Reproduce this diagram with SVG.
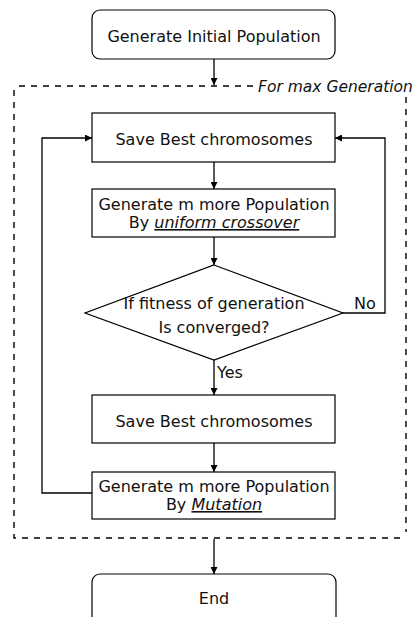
<svg xmlns="http://www.w3.org/2000/svg" width="417" height="617" viewBox="0 0 417 617">
<style>
.box{fill:#fff;stroke:#000;stroke-width:1.2}
.t{font-family:"DejaVu Sans","Liberation Sans",Arial,sans-serif;font-size:16px;fill:#111;text-anchor:middle}
.s{text-anchor:start}
.c{fill:none;stroke:#000;stroke-width:1.3}
.d{fill:none;stroke:#000;stroke-width:1.4;stroke-dasharray:6 6}
</style>
<defs>
<marker id="ah" viewBox="0 0 10 10" refX="10" refY="5" markerWidth="7" markerHeight="7" orient="auto" markerUnits="userSpaceOnUse">
<path d="M0,0 L10,5 L0,10 z" fill="#000"/>
</marker>
</defs>
<g id="loop-frame">
<path class="d" d="M19,86 H255 M14,90 V538 H406 M406,97 V532"/>
<text x="258" y="92" class="t s" style="font-style:italic;font-size:15.5px">For max Generation</text>
</g>
<g id="connectors">
<path class="c" d="M214,59 V85" marker-end="url(#ah)"/>
<path class="c" d="M214,162 V189" marker-end="url(#ah)"/>
<path class="c" d="M214,237 V265" marker-end="url(#ah)"/>
<path class="c" d="M214,360 V395" marker-end="url(#ah)"/>
<path class="c" d="M214,443 V472" marker-end="url(#ah)"/>
<path class="c" d="M214,539 V574" marker-end="url(#ah)"/>
<path class="c" d="M343,313 H385 V138 H335" marker-end="url(#ah)"/>
<path class="c" d="M92,493 H42 V138 H92" marker-end="url(#ah)"/>
<text x="354" y="309" class="t s">No</text>
<text x="217" y="378" class="t s">Yes</text>
</g>
<g id="start">
<rect class="box" x="92" y="10" width="243" height="49" rx="8"/>
<text x="214" y="42" class="t">Generate Initial Population</text>
</g>
<g id="save1">
<rect class="box" x="92" y="113" width="243" height="49"/>
<text x="214" y="145" class="t">Save Best chromosomes</text>
</g>
<g id="crossover">
<rect class="box" x="92" y="189" width="243" height="48"/>
<text x="214" y="210" class="t">Generate m more Population</text>
<text x="214" y="228" class="t">By <tspan font-style="italic" text-decoration="underline">uniform crossover</tspan></text>
</g>
<g id="decision">
<path class="box" d="M214,265 L343,313 L214,360 L85,313 Z"/>
<text x="214" y="309" class="t">If fitness of generation</text>
<text x="214" y="333" class="t">Is converged?</text>
</g>
<g id="save2">
<rect class="box" x="92" y="395" width="243" height="48"/>
<text x="214" y="427" class="t">Save Best chromosomes</text>
</g>
<g id="mutation">
<rect class="box" x="92" y="472" width="243" height="47"/>
<text x="214" y="492" class="t">Generate m more Population</text>
<text x="214" y="510" class="t">By <tspan font-style="italic" text-decoration="underline">Mutation</tspan></text>
</g>
<g id="end">
<rect class="box" x="92" y="574" width="244" height="60" rx="8"/>
<text x="214" y="604" class="t">End</text>
</g>
</svg>
